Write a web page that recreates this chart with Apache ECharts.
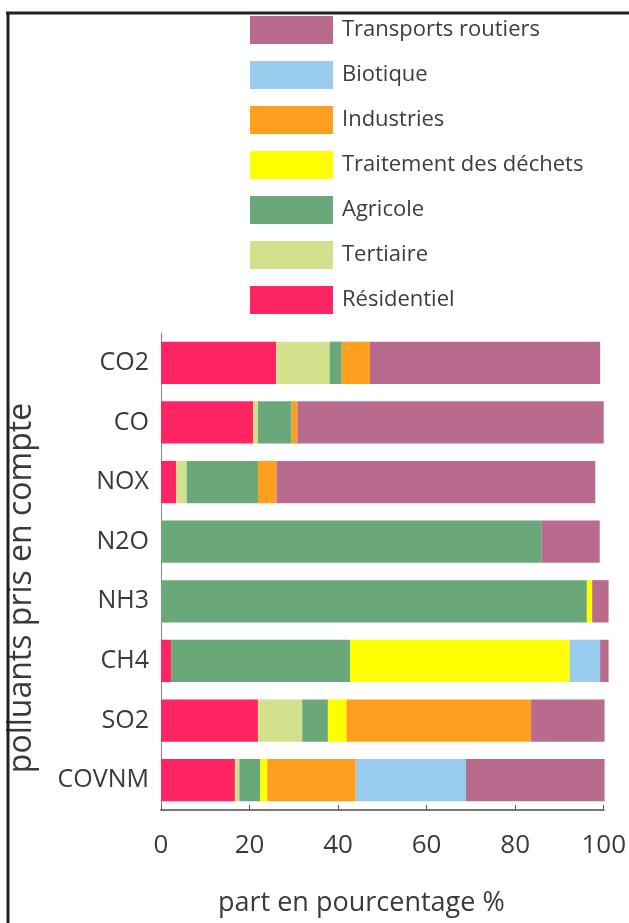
<!DOCTYPE html>
<html>
<head>
<meta charset="utf-8">
<script src="https://cdn.jsdelivr.net/npm/echarts@6/dist/echarts.min.js"></script>
<style>
  html, body { margin: 0; padding: 0; background: #ffffff; }
  #chart { width: 629px; height: 923px; }
</style>
</head>
<body>
<div id="chart"></div>
<script>
// Categories (top to bottom)
const categories = ['CO2', 'CO', 'NOX', 'N2O', 'NH3', 'CH4', 'SO2', 'COVNM'];

// Share (%) per sector, stacked from left to right
const residentiel = [26, 20.8, 3.4, 0, 0, 2.3, 21.9, 16.7];
const tertiaire   = [12.1, 1.1, 2.4, 0, 0, 0, 10, 1];
const agricole    = [2.7, 7.6, 16.1, 86, 96.2, 40.4, 5.8, 4.7];
const traitement  = [0, 0, 0, 0, 1.2, 49.6, 4.2, 1.6];
const industries  = [6.4, 1.3, 4.2, 0, 0, 0, 41.7, 20];
const biotique    = [0, 0, 0, 0, 0, 6.9, 0, 24.9];
const transports  = [52, 69.2, 72, 13.1, 3.7, 1.9, 16.6, 31.3];

const xTicks = [0, 20, 40, 60, 80, 100];

const seriesDefs = [
  { name: 'Résidentiel', data: residentiel, color: '#ff2462' },
  { name: 'Tertiaire', data: tertiaire, color: '#d3e08c' },
  { name: 'Agricole', data: agricole, color: '#6aa87a' },
  { name: 'Traitement des déchets', data: traitement, color: '#ffff00' },
  { name: 'Industries', data: industries, color: '#ff9f1f' },
  { name: 'Biotique', data: biotique, color: '#99ccee' },
  { name: 'Transports routiers', data: transports, color: '#b86b8c' }
];

const chart = echarts.init(document.getElementById('chart'));
const FONT = 'Open Sans';

chart.setOption({
  backgroundColor: '#ffffff',
  animation: false,
  textStyle: { fontFamily: FONT },
  legend: {
    orient: 'vertical',
    left: 245,
    top: 11,
    itemWidth: 83,
    itemHeight: 28,
    itemGap: 17,
    icon: 'rect',
    data: seriesDefs.map(s => s.name).reverse(),
    textStyle: { fontFamily: FONT, fontSize: 22, color: '#3d3d3d', padding: [0, 0, 0, 4] }
  },
  grid: { left: 161, right: 20, top: 333, bottom: 113, containLabel: false },
  xAxis: {
    type: 'value',
    min: xTicks[0],
    max: xTicks[xTicks.length - 1],
    interval: 20,
    splitLine: { show: false },
    axisLine: { show: true, lineStyle: { color: '#777', width: 2 } },
    axisTick: { show: true, inside: true, length: 5, lineStyle: { color: '#555' } },
    axisLabel: { fontFamily: FONT, fontSize: 26, color: '#3a3a3a', margin: 23 }
  },
  yAxis: {
    type: 'category',
    data: categories,
    inverse: true,
    axisLine: { show: true, lineStyle: { color: '#888', width: 1 } },
    axisTick: { show: false },
    axisLabel: { fontFamily: FONT, fontSize: 25, color: '#3a3a3a', margin: 12 }
  },
  series: seriesDefs.map(s => ({
    name: s.name,
    type: 'bar',
    stack: 'total',
    barCategoryGap: '29%',
    clip: false,
    data: s.data,
    itemStyle: { color: s.color }
  })),
  graphic: [
    {
      type: 'text',
      left: 218,
      top: 890,
      style: { text: 'part en pourcentage %', font: '27px "Open Sans"', fill: '#3a3a3a' }
    },
    {
      type: 'text',
      x: 22,
      y: 588,
      rotation: Math.PI / 2,
      style: {
        text: 'polluants pris en compte',
        font: '32px "Open Sans"',
        fill: '#3a3a3a',
        align: 'center',
        verticalAlign: 'middle'
      }
    },
    {
      type: 'line', z: 100,
      shape: { x1: 6, y1: 13, x2: 629, y2: 13 },
      style: { stroke: '#222', lineWidth: 3 }
    },
    {
      type: 'line', z: 100,
      shape: { x1: 8, y1: 12, x2: 8, y2: 923 },
      style: { stroke: '#222', lineWidth: 3 }
    }
  ]
});
</script>
</body>
</html>
